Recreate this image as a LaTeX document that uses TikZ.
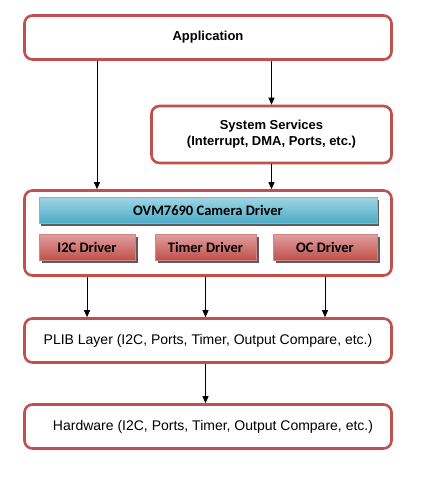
\documentclass[tikz,border=0pt]{standalone}
\usepackage{fontspec}
\setmainfont{Liberation Sans}
\newfontfamily\calib{Carlito}
\usetikzlibrary{arrows.meta,shadows}
\definecolor{bred}{RGB}{192,80,77}
\definecolor{redtop}{RGB}{224,160,158}
\definecolor{bluetop}{RGB}{160,214,228}
\definecolor{bluebot}{RGB}{75,172,198}
\begin{document}
\begin{tikzpicture}[x=1pt,y=-1pt,
  box/.style={draw=bred, line width=2.6pt, rounded corners=8pt, fill=white, align=center, inner sep=0pt, font=\fontsize{13}{16}\selectfont},
  plain/.style={font=\fontsize{14}{16}\selectfont},
  arr/.style={-{Triangle[length=7pt,width=6pt]}, line width=0.8pt, black},
  bluebar/.style={draw=bluebot!80!white, line width=0.6pt, top color=bluetop, bottom color=bluebot, inner sep=0pt,
     drop shadow={shadow xshift=1.5pt, shadow yshift=-2.5pt, opacity=0.85, fill=black!75},
     font=\calib\bfseries\fontsize{14.5}{16}\selectfont},
  redbox/.style={draw=bred!70!white, line width=0.6pt, top color=redtop, bottom color=bred, inner sep=0pt,
     drop shadow={shadow xshift=2.5pt, shadow yshift=-2.5pt, opacity=0.85, fill=black!75},
     font=\calib\bfseries\fontsize{14.5}{16}\selectfont}]
\useasboundingbox (0,0) rectangle (422,480);
\fill[white] (0,0) rectangle (422,480);
\node[box, minimum width=367pt, minimum height=44pt] (app) at (208,37.5) {\bfseries Application};
\node[box, minimum width=240pt, minimum height=57pt] (sys) at (271.5,134.5) {\bfseries System Services\\\bfseries (Interrupt, DMA, Ports, etc.)};
\node[box, minimum width=367pt, minimum height=85pt] (cam) at (208,233) {};
\node[box, plain, minimum width=367pt, minimum height=44pt] (plib) at (208,340.5) {PLIB Layer (I2C, Ports, Timer, Output Compare, etc.)};
\node[box, plain, minimum width=367pt, minimum height=44pt] (hw) at (208,426.5) {\hspace{10pt}Hardware (I2C, Ports, Timer, Output Compare, etc.)};
\node[bluebar, minimum width=338pt, minimum height=26pt] (drv) at (208,210) {OVM7690 Camera Driver};
\node[redbox, minimum width=96pt, minimum height=26pt] (i2c) at (87,247) {I2C Driver};
\node[redbox, minimum width=101pt, minimum height=26pt] (tmr) at (205.5,247) {Timer Driver};
\node[redbox, minimum width=104pt, minimum height=26pt] (oc) at (325,247) {OC Driver};
\coordinate (ax) at (97,0);
\draw[arr] (ax |- app.south) -- (ax |- cam.north);
\draw[arr] (sys.north |- app.south) -- (sys.north);
\draw[arr] (sys.south) -- (sys.south |- cam.north);
\draw[arr] (i2c |- cam.south) -- (i2c |- plib.north);
\draw[arr] (tmr |- cam.south) -- (tmr |- plib.north);
\draw[arr] (oc |- cam.south) -- (oc |- plib.north);
\draw[arr] (plib.south -| tmr) -- (tmr |- hw.north);
\end{tikzpicture}
\end{document}
